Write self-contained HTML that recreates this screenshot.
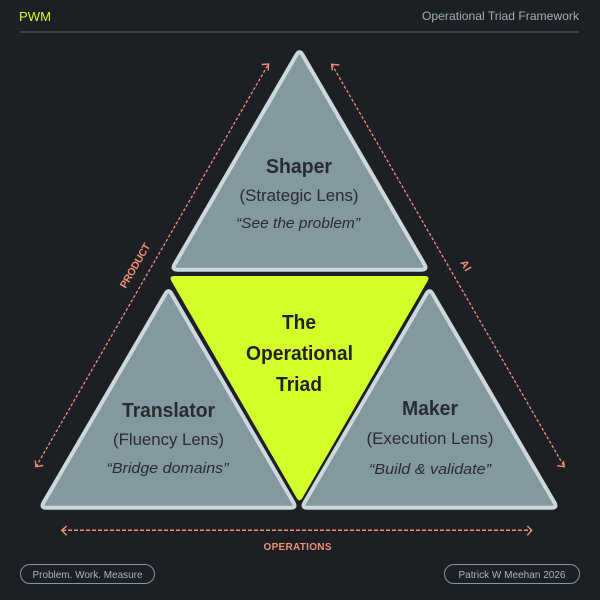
<!DOCTYPE html>
<html><head><meta charset="utf-8"><style>
html,body{margin:0;padding:0;background:#1c1f24}
svg{display:block}
text{font-family:"Liberation Sans",sans-serif}
</style></head><body>
<svg width="600" height="600" viewBox="0 0 600 600" xmlns="http://www.w3.org/2000/svg">
<rect width="600" height="600" fill="#1c1f24"/>
<text x="19" y="21" font-size="13" fill="#d4ff2a" textLength="32" lengthAdjust="spacingAndGlyphs">PWM</text>
<text x="579" y="20" font-size="12" fill="#9fb0b5" text-anchor="end" textLength="157" lengthAdjust="spacingAndGlyphs">Operational Triad Framework</text>
<rect x="20" y="31" width="559" height="2" fill="#3c4145"/>

<g stroke-linejoin="round" fill="#83989f" stroke="#cdd8dc" stroke-width="4">
<path d="M296.5 54.7Q299.5 49.5 302.5 54.7L424.5 264.500Q427.5 269.7 421.5 269.7L177.5 269.7Q171.5 269.7 174.5 264.500Z"/>
<path d="M165.5 293.7Q168.5 288.5 171.5 293.7L293.5 502.6Q296.5 507.8 290.5 507.8L46.5 507.8Q40.5 507.8 43.5 502.6Z"/>
<path d="M426.5 293.7Q429.5 288.5 432.5 293.7L554.5 502.6Q557.5 507.8 551.5 507.8L307.5 507.8Q301.5 507.8 304.5 502.6Z"/>
</g>
<path d="M174.5 276L424.5 276Q430.5 276 427.5 281.2L302.5 497.8Q299.5 503 296.5 497.8L171.5 281.2Q168.5 276 174.5 276Z" fill="#d4ff2a"/>

<g fill="none" stroke="#f58e76" stroke-width="1.3" stroke-dasharray="3 2">
<path d="M36 466.7L268.5 64"/>
<path d="M331.7 64.3L564.3 466.7"/>
</g>
<path d="M62 530.300H531.500" fill="none" stroke="#f58e76" stroke-width="1.5" stroke-dasharray="4 2"/>
<g fill="none" stroke="#f58e76" stroke-width="1.4">
<path d="M261.700 64.500L268.500 64L268.300 70.500"/>
<path d="M35.300 460.500L36 466.700L43 465.500"/>
<path d="M339.300 65L331.700 64.300L332.300 70.500"/>
<path d="M557.300 465.700L564.300 466.700L563.300 461"/>
<path d="M66.700 526L61.700 530.300L66.700 535.300"/>
<path d="M527.300 526L531.700 530.300L527.300 535.300"/>
</g>

<text x="138.200" y="267.400" font-size="10.500" font-weight="bold" fill="#f58e76" text-anchor="middle" transform="rotate(-60 138.200 267.400)" textLength="50" lengthAdjust="spacing">PRODUCT</text>
<text x="462.800" y="267.300" font-size="10.500" font-weight="bold" fill="#f58e76" text-anchor="middle" transform="rotate(60 462.800 267.300)" textLength="11" lengthAdjust="spacing">AI</text>
<text x="297.500" y="550" font-size="10" font-weight="bold" fill="#f58e76" text-anchor="middle" textLength="68" lengthAdjust="spacing">OPERATIONS</text>

<g fill="#282c31" text-anchor="middle">
<text x="299" y="173" font-size="20" font-weight="bold" textLength="66" lengthAdjust="spacingAndGlyphs">Shaper</text>
<text x="299" y="201" font-size="16.500" textLength="119" lengthAdjust="spacingAndGlyphs">(Strategic Lens)</text>
<text x="298" y="228" font-size="15" font-style="italic" textLength="124" lengthAdjust="spacingAndGlyphs">“See the problem”</text>

<text x="168.500" y="417" font-size="20" font-weight="bold" textLength="93" lengthAdjust="spacingAndGlyphs">Translator</text>
<text x="168.500" y="445" font-size="16.500" textLength="111" lengthAdjust="spacingAndGlyphs">(Fluency Lens)</text>
<text x="167.500" y="473" font-size="15" font-style="italic" textLength="122" lengthAdjust="spacingAndGlyphs">“Bridge domains”</text>

<text x="430" y="415" font-size="20" font-weight="bold" textLength="56" lengthAdjust="spacingAndGlyphs">Maker</text>
<text x="430" y="444" font-size="16.500" textLength="127" lengthAdjust="spacingAndGlyphs">(Execution Lens)</text>
<text x="430" y="474" font-size="15" font-style="italic" textLength="122" lengthAdjust="spacingAndGlyphs">“Build &amp; validate”</text>
</g>
<g fill="#1f2328" text-anchor="middle" font-weight="bold" font-size="20">
<text x="299" y="329" textLength="34" lengthAdjust="spacingAndGlyphs">The</text>
<text x="299.500" y="360" textLength="107" lengthAdjust="spacingAndGlyphs">Operational</text>
<text x="299" y="391" textLength="46" lengthAdjust="spacingAndGlyphs">Triad</text>
</g>

<rect x="20.500" y="564.500" width="134" height="19" rx="9.500" fill="none" stroke="#83989f" stroke-width="1"/>
<text x="87.500" y="578" font-size="10.500" fill="#a9b8bc" text-anchor="middle" textLength="110" lengthAdjust="spacingAndGlyphs">Problem. Work. Measure</text>
<rect x="444.500" y="564.500" width="135" height="19" rx="9.500" fill="none" stroke="#83989f" stroke-width="1"/>
<text x="512" y="578" font-size="10.500" fill="#a9b8bc" text-anchor="middle" textLength="107" lengthAdjust="spacingAndGlyphs">Patrick W Meehan 2026</text>
</svg>
</body></html>
